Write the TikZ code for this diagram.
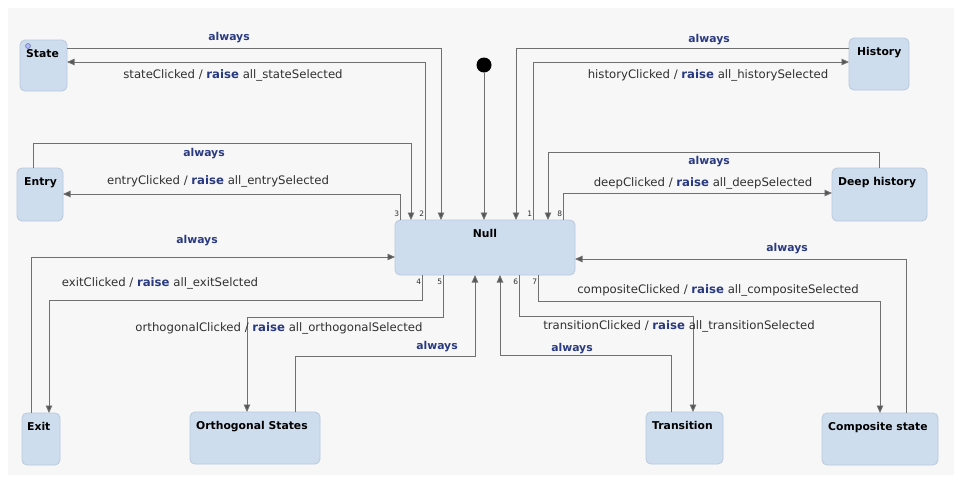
\documentclass[tikz,border=0pt]{standalone}
\usepackage{fontspec}
\setmainfont{DejaVu Sans}
\usetikzlibrary{arrows.meta}
\definecolor{bgc}{HTML}{F7F7F7}
\definecolor{boxfill}{HTML}{CEDDEE}
\definecolor{boxline}{HTML}{B8C8DC}
\definecolor{wire}{HTML}{707070}
\definecolor{ink}{HTML}{303030}
\definecolor{kw}{HTML}{2A3A80}
\newcommand{\kwd}[1]{\textcolor{kw}{\bfseries #1}}
\begin{document}
\begin{tikzpicture}[x=1pt,y=-1pt,
  box/.style={draw=boxline, fill=boxfill, rounded corners=5pt, line width=0.8pt,
    inner sep=0pt, outer sep=0pt, anchor=north west},
  title/.style={font=\bfseries\fontsize{10.8}{13}\selectfont, text=black, anchor=base west, inner sep=0pt},
  tr/.style={draw=wire, line width=0.9pt, -{Triangle[length=7.5pt,width=6.5pt,fill=wire!75!black]}},
  lbl/.style={font=\fontsize{11.7}{13}\selectfont, text=ink, inner sep=0pt},
  alw/.style={font=\bfseries\fontsize{10.8}{13}\selectfont, text=kw, inner sep=0pt},
  num/.style={font=\fontsize{7.5}{8}\selectfont, text=ink, inner sep=0.6pt, fill=bgc},
]
\useasboundingbox (0,0) rectangle (959,483);
\fill[white] (0,0) rectangle (959,483);
\fill[bgc] (8,8) rectangle (954,475);

% states
\node[box, minimum width=47pt, minimum height=51pt] (state) at (20,40) {};
\node[box, minimum width=60pt, minimum height=52pt] (history) at (849,38) {};
\node[box, minimum width=46pt, minimum height=53pt] (entry) at (17,168) {};
\node[box, minimum width=95pt, minimum height=53pt] (deep) at (832,168) {};
\node[box, minimum width=180pt, minimum height=55pt] (null) at (395,220) {};
\node[box, minimum width=38pt, minimum height=52pt] (exit) at (22,413) {};
\node[box, minimum width=130pt, minimum height=52pt] (orth) at (190,412) {};
\node[box, minimum width=77pt, minimum height=52pt] (trans) at (646,412) {};
\node[box, minimum width=116pt, minimum height=52pt] (comp) at (822,413) {};

% state titles
\node[title] (stateT) at ([xshift=6pt,yshift=-17pt]state.north west) {State};
\node[title] (historyT) at ([xshift=8pt,yshift=-17pt]history.north west) {History};
\node[title] (entryT) at ([xshift=7pt,yshift=-17pt]entry.north west) {Entry};
\node[title] (deepT) at ([xshift=6pt,yshift=-17pt]deep.north west) {Deep history};
\node[title, anchor=base] (nullT) at ([yshift=-17pt]null.north) {Null};
\node[title] (exitT) at ([xshift=5pt,yshift=-17pt]exit.north west) {Exit};
\node[title] (orthT) at ([xshift=6pt,yshift=-17pt]orth.north west) {Orthogonal States};
\node[title] (transT) at ([xshift=6pt,yshift=-17pt]trans.north west) {Transition};
\node[title] (compT) at ([xshift=6pt,yshift=-17pt]comp.north west) {Composite state};

% marker on the State box
\node[circle, draw=kw!70, fill=boxfill!60!blue!60, minimum size=5pt, inner sep=0pt, line width=0.5pt] (mark) at (28,46) {};

% initial pseudo state
\node[circle, fill=black, minimum size=15pt, inner sep=0pt] (init) at (484,65) {};
\draw[tr] (init.south) -- (484,0 |- null.north);

% State
\draw[tr] (state.east |- 0,48) -| (441,0 |- null.north);
\node[alw] (l1) at (229,38) {always};
\draw[tr] (425,0 |- null.north) |- (state.east |- 0,62);
\node[lbl] (l2) at (233,75) {stateClicked / \kwd{raise} all\_stateSelected};
\node[num, anchor=south east] (n2) at (425,217) {2};

% Entry
\draw[tr] (33,0 |- entry.north) |- (411,143) -- (411,0 |- null.north);
\node[alw] (l3) at (204,154) {always};
\draw[tr] (400,0 |- null.north) |- (entry.east |- 0,194);
\node[lbl] (l4) at (218,181) {entryClicked / \kwd{raise} all\_entrySelected};
\node[num, anchor=south east] (n3) at (400,217) {3};

% Exit
\draw[tr] (31,0 |- exit.north) |- (null.west |- 0,257);
\node[alw] (l5) at (197,241) {always};
\draw[tr] (422,0 |- null.south) |- (49,300) -- (49,0 |- exit.north);
\node[lbl] (l6) at (160,283) {exitClicked / \kwd{raise} all\_exitSelcted};
\node[num, anchor=north east] (n4) at (422,278) {4};

% Orthogonal States
\draw[tr] (443,0 |- null.south) |- (247,317) -- (247,0 |- orth.north);
\node[lbl] (l7) at (279,328) {orthogonalClicked / \kwd{raise} all\_orthogonalSelected};
\node[num, anchor=north east] (n5) at (443,278) {5};
\draw[tr] (295,0 |- orth.north) |- (475,356) -- (475,0 |- null.south);
\node[alw] (l8) at (437,347) {always};

% Transition
\draw[tr] (671,0 |- trans.north) |- (500,355) -- (500,0 |- null.south);
\node[alw] (l9) at (572,349) {always};
\draw[tr] (519,0 |- null.south) |- (693,316) -- (693,0 |- trans.north);
\node[lbl] (l10) at (679,326) {transitionClicked / \kwd{raise} all\_transitionSelected};
\node[num, anchor=north east] (n6) at (519,278) {6};

% Composite state
\draw[tr] (538,0 |- null.south) |- (880,301) -- (880,0 |- comp.north);
\node[lbl] (l11) at (718,290) {compositeClicked / \kwd{raise} all\_compositeSelected};
\node[num, anchor=north east] (n7) at (538,278) {7};
\draw[tr] (906,0 |- comp.north) |- (null.east |- 0,259);
\node[alw] (l12) at (787,249) {always};

% Deep history
\draw[tr] (879,0 |- deep.north) |- (548,152) -- (548,0 |- null.north);
\node[alw] (l13) at (709,162) {always};
\draw[tr] (563,0 |- null.north) |- (deep.west |- 0,193);
\node[lbl] (l14) at (703,183) {deepClicked / \kwd{raise} all\_deepSelected};
\node[num, anchor=south east] (n8) at (563,217) {8};

% History
\draw[tr] (history.west |- 0,48) -| (516,0 |- null.north);
\node[alw] (l15) at (709,40) {always};
\draw[tr] (533,0 |- null.north) |- (history.west |- 0,62);
\node[lbl] (l16) at (708,75) {historyClicked / \kwd{raise} all\_historySelected};
\node[num, anchor=south east] (n1) at (533,217) {1};
\end{tikzpicture}
\end{document}
